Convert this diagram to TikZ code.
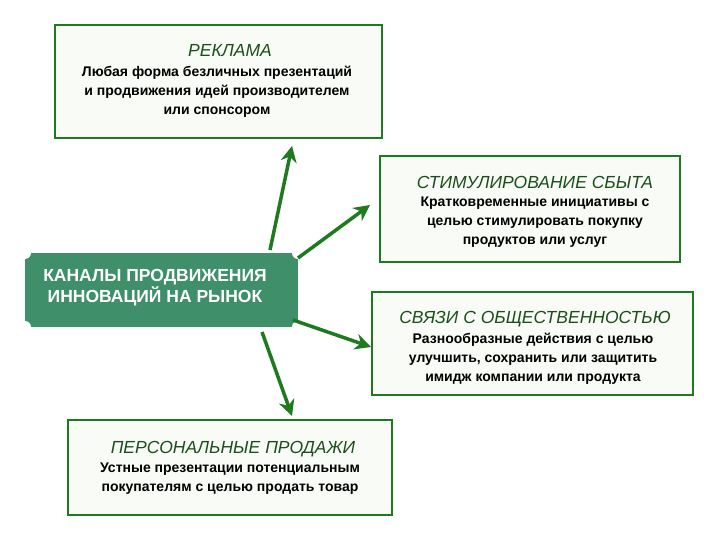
\documentclass[tikz,border=0pt]{standalone}
\usepackage{fontspec}
\setmainfont{Liberation Sans}
\usetikzlibrary{arrows.meta}
\definecolor{gb}{HTML}{1E7A1E}
\definecolor{cf}{HTML}{3F8F6A}
\definecolor{tg}{HTML}{1A4F1A}
\definecolor{bf}{HTML}{F8FBF6}
\begin{document}
\begin{tikzpicture}[x=1pt,y=-1pt,
  box/.style={draw=gb,line width=2.5pt,fill=bf},
  ttl/.style={font=\fontsize{17.5}{20}\selectfont\itshape,text=tg},
  bdy/.style={font=\fontsize{14}{19}\selectfont\bfseries,align=center},
  arr/.style={draw=gb,line width=3.5pt,-{Stealth[length=16pt,width=16pt]}}]
\useasboundingbox (0,0) rectangle (720,540);
\fill[white] (0,0) rectangle (720,540);
\draw[box] (55,25) rectangle (382,138);
\draw[box] (380,156) rectangle (680,262);
\draw[box] (372,292) rectangle (693,395);
\draw[box] (68,420) rectangle (392,515);
\node[ttl] (t1) at (230,51) {РЕКЛАМА};
\node[bdy] (b1) at (217,92) {Любая форма безличных презентаций\\и продвижения идей производителем\\или спонсором};
\node[ttl] (t2) at (535,182) {СТИМУЛИРОВАНИЕ СБЫТА};
\node[bdy] (b2) at (535,222) {Кратковременные инициативы с\\целью стимулировать покупку\\продуктов или услуг};
\node[ttl] (t3) at (535,319) {СВЯЗИ С ОБЩЕСТВЕННОСТЬЮ};
\node[bdy] (b3) at (533,359) {Разнообразные действия с целью\\улучшить, сохранить или защитить\\имидж компании или продукта};
\node[ttl] (t4) at (233,449) {ПЕРСОНАЛЬНЫЕ ПРОДАЖИ};
\node[bdy] (b4) at (230,479) {Устные презентации потенциальным\\покупателям с целью продать товар};
\fill[cf] (25,253) rectangle (298,327);
\foreach \p in {(25,253),(298,253),(25,327),(298,327)} \fill[white] \p circle (6);
\node[font=\fontsize{17.5}{21}\selectfont\bfseries,text=white,align=center] (c) at (155,288) {КАНАЛЫ ПРОДВИЖЕНИЯ\\ИННОВАЦИЙ НА РЫНОК};
\coordinate (s1) at (270,250); \coordinate (e1) at (292,146);
\coordinate (s2) at (298,258); \coordinate (e2) at (370,205);
\coordinate (s3) at (293,320); \coordinate (e3) at (371,347);
\coordinate (s4) at (262,332); \coordinate (e4) at (292,416);
\draw[arr] (s1) -- (e1);
\draw[arr] (s2) -- (e2);
\draw[arr] (s3) -- (e3);
\draw[arr] (s4) -- (e4);
\end{tikzpicture}
\end{document}
